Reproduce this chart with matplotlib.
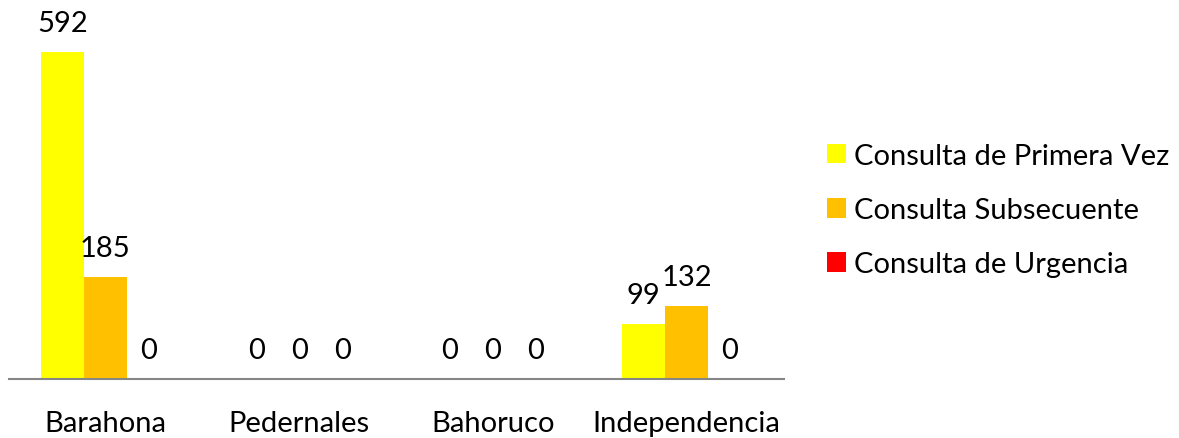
import matplotlib
matplotlib.use("Agg")
import matplotlib.pyplot as plt
import numpy as np

categories = ["Barahona", "Pedernales", "Bahoruco", "Independencia"]
series_names = ["Consulta de Primera Vez", "Consulta Subsecuente", "Consulta de Urgencia"]
primera_vez = [592, 0, 0, 99]
subsecuente = [185, 0, 0, 132]
urgencia = [0, 0, 0, 0]
colors = ["#FFFF00", "#FFC000", "#FF0000"]

plt.rcParams['font.family'] = ['Lato', 'DejaVu Sans']
FS = 21

fig = plt.figure(figsize=(11.79, 4.39), dpi=100)
ax = fig.add_axes([8.6/1179, (439-380)/439, 775/1179, 380/439])

x = np.arange(len(categories))
w = 0.222
series = [primera_vez, subsecuente, urgencia]
handles = []
for i, (vals, name, c) in enumerate(zip(series, series_names, colors)):
    pos = x + (i - 1) * w
    b = ax.bar(pos, vals, width=w, color=c, label=name, zorder=2)
    handles.append(b)
    for p, v in zip(pos, vals):
        ax.annotate(str(v), (p, v), xytext=(0, 21), textcoords="offset points",
                    ha="center", va="center", fontsize=FS, color="black")

ax.set_xlim(-0.5, 3.5)
ax.set_ylim(0, 688)
ax.set_xticks(x)
ax.set_xticklabels(categories, fontsize=FS)
ax.tick_params(axis='x', length=0, pad=22)
ax.set_yticks([])
for s in ["top", "right", "left"]:
    ax.spines[s].set_visible(False)
ax.spines["bottom"].set_color("#868686")
ax.spines["bottom"].set_linewidth(1.5)

leg = fig.legend(handles=handles, labels=series_names, loc="center left",
                 bbox_to_anchor=(827/1179, 1 - 211/439), frameon=False,
                 fontsize=FS, handlelength=0.66, handleheight=0.66,
                 handletextpad=0.28, labelspacing=0.97, borderpad=0,
                 borderaxespad=0)

fig.savefig("out.png", dpi=100)
